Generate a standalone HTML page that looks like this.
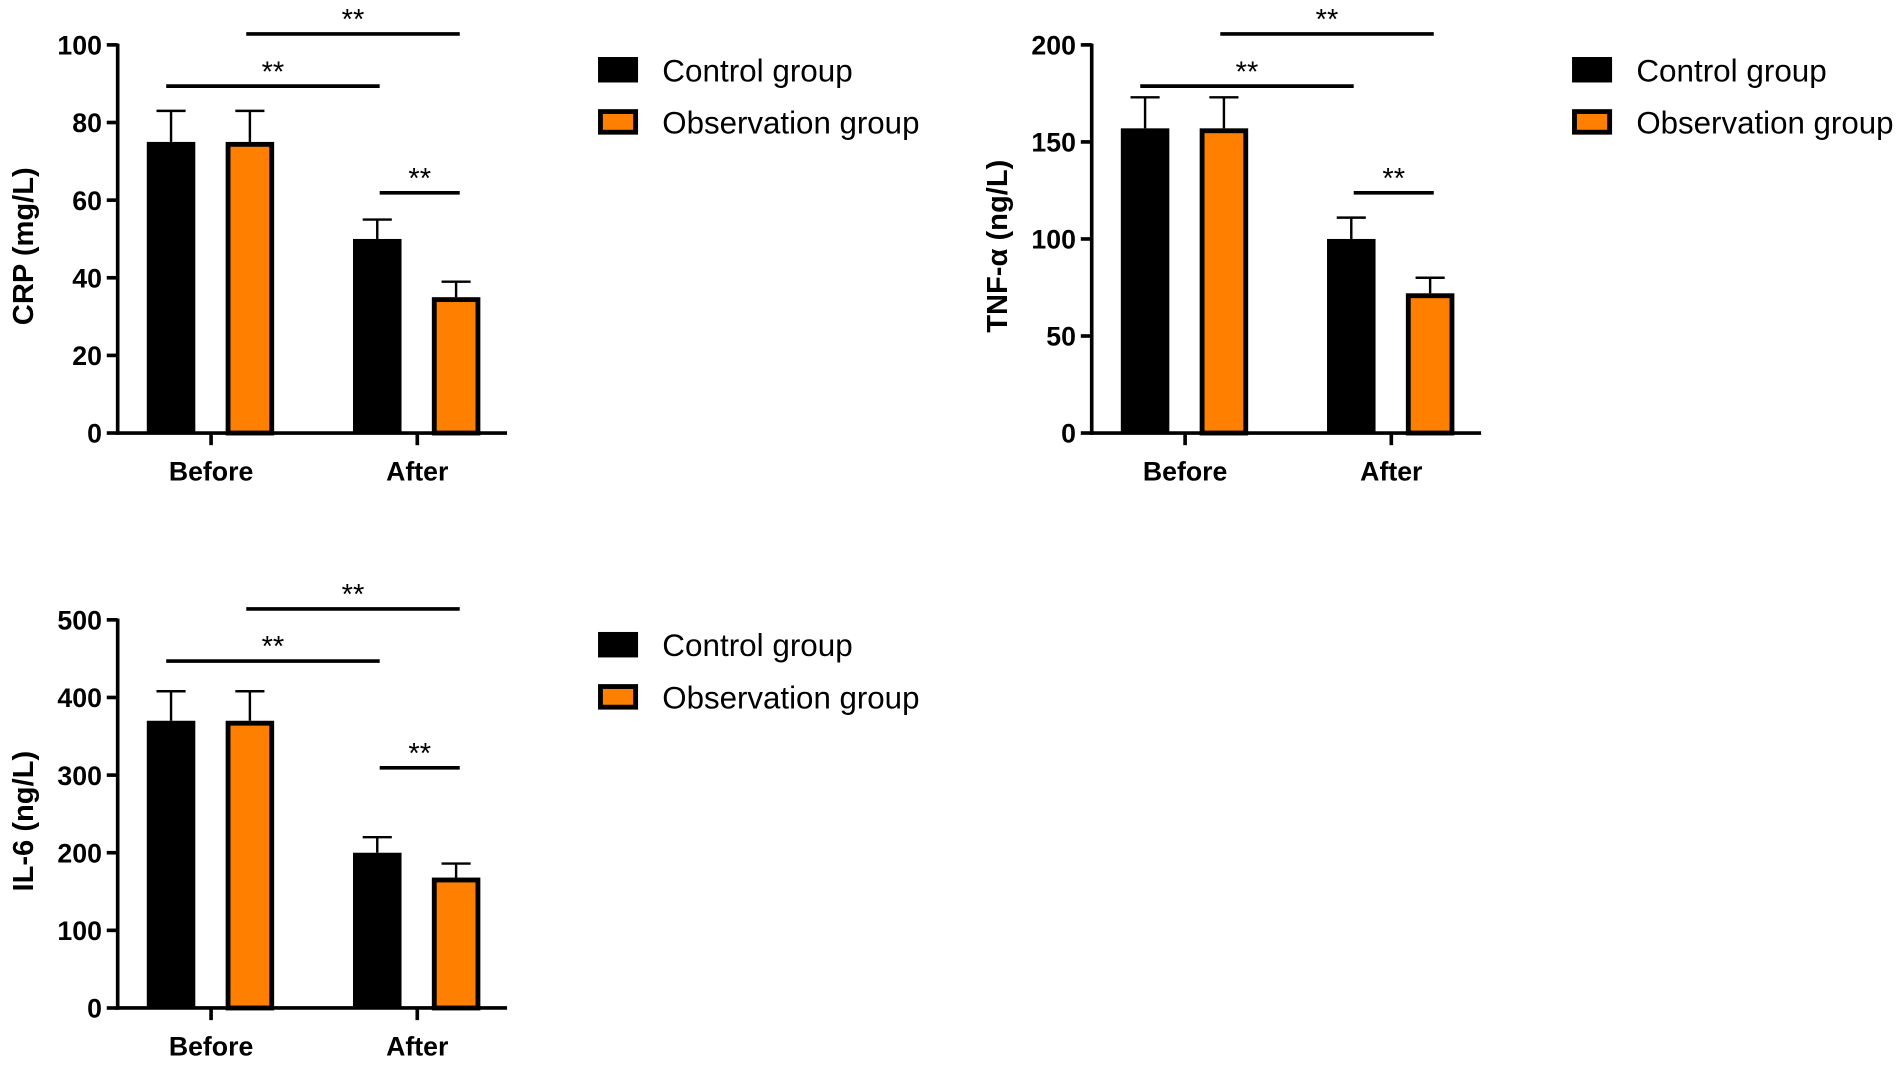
<!DOCTYPE html>
<html><head><meta charset="utf-8"><style>
html,body{margin:0;padding:0;background:#fff;}
svg{display:block;font-family:"Liberation Sans",sans-serif;}
</style></head><body>
<svg id="fig" width="1902" height="1065" viewBox="0 0 1568 878" xmlns="http://www.w3.org/2000/svg"></svg>
<script>
const categories = ["Before", "After"];
const seriesNames = ["Control group", "Observation group"];
const crpMeans = [[75, 50], [75, 35]];
const crpErr = [[83, 55], [83, 39]];
const crpTicks = [0, 20, 40, 60, 80, 100];
const tnfMeans = [[157, 100], [157, 72]];
const tnfErr = [[173, 111], [173, 80]];
const tnfTicks = [0, 50, 100, 150, 200];
const il6Means = [[370, 200], [370, 168]];
const il6Err = [[408, 220], [408, 186]];
const il6Ticks = [0, 100, 200, 300, 400, 500];

const NS = "http://www.w3.org/2000/svg";
const svg = document.getElementById("fig");
function mk(tag, attrs, parent) {
  const e = document.createElementNS(NS, tag);
  for (const k in attrs) e.setAttribute(k, attrs[k]);
  (parent || svg).appendChild(e);
  return e;
}

function panel(key, title, means, errs, ticks, dx, dy) {
  const g = mk("g", {transform: `translate(${dx},${dy})`});
  
  
  const x0 = 97, yTop = 37, yBot = 357, xEnd = 418;
  const maxV = ticks[ticks.length - 1];
  const y = v => yBot - (v / maxV) * (yBot - yTop);
  const centers = [174, 344];
  const offs = [-33, 32];
  const bw = 40;
  for (let s = 0; s < 2; s++) {
    for (let c = 0; c < categories.length; c++) {
      const cx = centers[c] + offs[s];
      const top = y(means[s][c]);
      const eTop = y(errs[s][c]);
      const el = mk("line", {x1: cx, x2: cx, y1: top, y2: eTop, stroke: "#000", "stroke-width": 2}, g);
      
      
      const cap = mk("line", {x1: cx - 12, x2: cx + 12, y1: eTop, y2: eTop, stroke: "#000", "stroke-width": 2}, g);
      
      
      let r;
      if (s === 0) {
        r = mk("rect", {x: cx - bw/2, y: top, width: bw, height: yBot - top, fill: "#000"}, g);
      } else {
        r = mk("rect", {x: cx - bw/2 + 2, y: top + 2, width: bw - 4, height: yBot - top - 2, fill: "#ff8000", stroke: "#000", "stroke-width": 4}, g);
      }
      
      
    }
  }
  const ya = mk("line", {x1: x0, x2: x0, y1: yTop - 1, y2: yBot + 1.5, stroke: "#000", "stroke-width": 3}, g);
  
  
  const xa = mk("line", {x1: x0 - 1.5, x2: xEnd, y1: yBot, y2: yBot, stroke: "#000", "stroke-width": 3}, g);
  
  
  ticks.forEach(t => {
    const ty = y(t);
    const tl = mk("line", {x1: x0 - 9, x2: x0, y1: ty, y2: ty, stroke: "#000", "stroke-width": 3}, g);
    
    
    const tx = mk("text", {x: 84, y: ty + 8, "text-anchor": "end", "font-size": 22, "font-weight": "bold"}, g);
    tx.textContent = t;
    
    
  });
  categories.forEach((cname, c) => {
    const tl = mk("line", {x1: centers[c], x2: centers[c], y1: yBot, y2: yBot + 10, stroke: "#000", "stroke-width": 3}, g);
    
    
    const tx = mk("text", {x: centers[c], y: yBot + 39, "text-anchor": "middle", "font-size": 22, "font-weight": "bold"}, g);
    tx.textContent = cname;
    
    
  });
  const yt = mk("text", {x: 0, y: 0, transform: `translate(27,${(yTop + yBot) / 2 + 6}) rotate(-90)`, "text-anchor": "middle", "font-size": 24, "font-weight": "bold"}, g);
  yt.textContent = title;
  
  
  const sig = [[203, 379, 28], [137, 313, 71], [313, 379, 159]];
  sig.forEach(([a, b, ly], i) => {
    const l = mk("line", {x1: a, x2: b, y1: ly, y2: ly, stroke: "#000", "stroke-width": 3}, g);
    
    
    const t = mk("text", {x: (a + b) / 2, y: ly - 4, "text-anchor": "middle", "font-size": 24}, g);
    t.textContent = "**";
    
    
  });
  const leg = mk("g", {}, g);
  
  
  const sw1 = mk("rect", {x: 493, y: 47, width: 33, height: 21, fill: "#000"}, leg);
  
  
  const sw2 = mk("rect", {x: 495, y: 92, width: 29, height: 17, fill: "#ff8000", stroke: "#000", "stroke-width": 4}, leg);
  
  
  const t1 = mk("text", {x: 546, y: 67, "font-size": 26, textLength: 157, lengthAdjust: "spacingAndGlyphs"}, leg);
  t1.textContent = seriesNames[0];
  
  
  const t2 = mk("text", {x: 546, y: 110, "font-size": 26, textLength: 212, lengthAdjust: "spacingAndGlyphs"}, leg);
  t2.textContent = seriesNames[1];
  
  
}

panel("crp", "CRP (mg/L)", crpMeans, crpErr, crpTicks, 0, 0);
panel("tnf", "TNF-α (ng/L)", tnfMeans, tnfErr, tnfTicks, 803, 0);
panel("il6", "IL-6 (ng/L)", il6Means, il6Err, il6Ticks, 0, 474);
</script>
</body></html>
